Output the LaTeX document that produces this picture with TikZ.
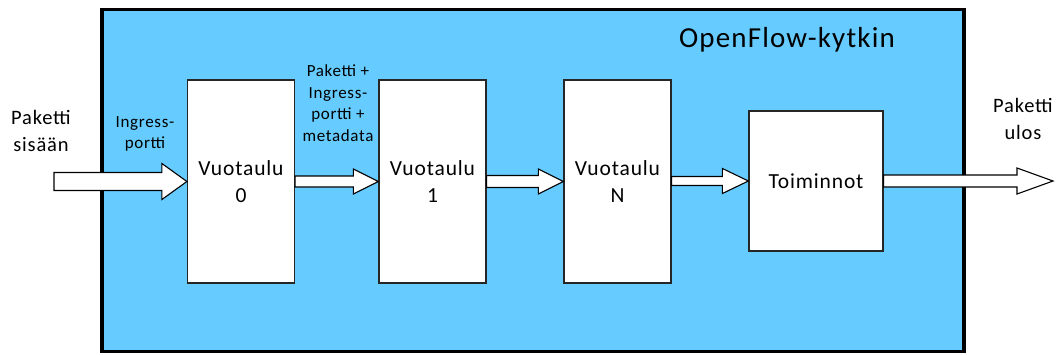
\documentclass[tikz,border=0pt]{standalone}
\usepackage{fontspec}
\setmainfont{Carlito}[LetterSpace=4]
\usetikzlibrary{calc}
\definecolor{switchblue}{HTML}{66CCFF}
\tikzset{
  frame/.style={draw=black, line width=3.2pt, fill=switchblue, inner sep=0pt},
  tablebox/.style={draw=black!85, line width=1.2pt, fill=white, inner sep=0pt,
    minimum width=107pt, minimum height=203pt, align=center,
    font=\fontsize{21.5}{27}\selectfont},
  label/.style={align=center, inner sep=0pt, font=\fontsize{20.5}{27}\selectfont},
  smalllabel/.style={align=center, inner sep=0pt, font=\fontsize{17}{21.5}\selectfont},
  % wide hollow arrow: shaft half-width, head half-width, head length
  fatarrow/.style n args={3}{draw=black, fill=white, line width=1.1pt, line join=miter,
    to path={let \p1=(\tikztostart), \p2=(\tikztotarget) in
      (\x1,\y2+#1) -- (\x2-#3,\y2+#1) -- (\x2-#3,\y2+#2) -- (\x2,\y2)
      -- (\x2-#3,\y2-#2) -- (\x2-#3,\y2-#1) -- (\x1,\y2-#1) -- cycle}}
}
\begin{document}
\begin{tikzpicture}[x=1pt, y=-1pt]
  \useasboundingbox (0,0) rectangle (1062,354);

  % switch enclosure
  \node[frame, minimum width=862pt, minimum height=342pt] (sw) at (533,180.5) {};
  \node[inner sep=0pt, font=\fontsize{29}{32}\selectfont] (title) at (787,40) {OpenFlow-kytkin};

  % pipeline stages
  \node[tablebox] (v0) at (241,181.5) {Vuotaulu\\0};
  \node[tablebox] (v1) at (432.5,181.5) {Vuotaulu\\1};
  \node[tablebox] (vN) at (617.5,181.5) {Vuotaulu\\N};
  \node[tablebox, minimum width=134pt, minimum height=140pt] (act) at (816,181) {Toiminnot};

  % free ends of the outer arrows
  \coordinate (in) at (54,181.5);
  \coordinate (out) at (1053,181);

  % packet flow
  \draw[fatarrow={9pt}{18pt}{25pt}] (in) to (v0.west);
  \draw[fatarrow={5.5pt}{12.5pt}{25pt}] (v0.east) to (v1.west);
  \draw[fatarrow={6pt}{12.5pt}{25pt}] (v1.east) to (vN.west);
  \draw[fatarrow={4.5pt}{12.5pt}{26pt}] (vN.east) to (act.west);
  \draw[fatarrow={6pt}{13pt}{36pt}] (act.east) to (out);

  % labels
  \node[label] (lin) at (41,131) {Paketti\\sisään};
  \node[smalllabel] (lport) at (145,134) {Ingress-\\portti};
  \node[smalllabel] (lmeta) at (338,103) {Paketti +\\Ingress-\\portti +\\metadata};
  \node[label] (lout) at (1023,119) {Paketti\\ulos};
\end{tikzpicture}
\end{document}
